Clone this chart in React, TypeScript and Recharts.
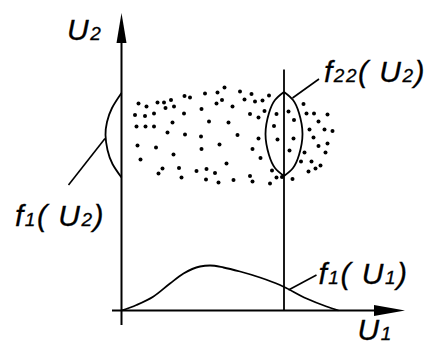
import React from 'react';
import {
  ComposedChart, XAxis, YAxis, Line, Scatter, ReferenceLine, ReferenceDot,
} from 'recharts';

// (U1, U2) samples of the joint distribution
const cloud: [number, number][] = [
  [103, 223], [83.5, 217], [96, 218], [118.5, 219], [130, 216.5], [63, 214.5],
  [68.5, 213], [49.5, 210.5], [42.5, 208], [36, 208], [17, 207], [100.5, 210.5],
  [95, 207], [123, 211], [133.5, 209], [141, 210], [147.5, 215], [52.5, 204],
  [44, 202.5], [25, 204], [80, 201.5], [111, 204], [143, 199.5], [32.5, 197],
  [23.5, 194.5], [13.5, 195.5], [62.5, 197], [128.5, 196.5], [137, 193], [155, 196.5],
  [167, 199], [182, 206.5], [185, 197], [192.5, 197], [206, 196], [172.5, 190.5],
  [197, 189], [51, 188], [87.5, 189], [107, 188], [15, 184], [24, 184],
  [32.5, 184], [152.5, 184.5], [188, 181], [203, 181], [211, 179.5], [46, 178],
  [63.5, 176], [116, 175.5], [79.5, 174], [137, 172], [156, 171], [172, 172],
  [192, 173], [206, 167], [197, 164.5], [16, 165], [34.5, 163], [98, 166],
  [80, 161.5], [131, 161.5], [168, 160], [183, 158], [204, 158], [52, 156],
  [19, 151], [139, 152.5], [179.5, 149], [190, 149], [105, 147], [199, 145],
  [194, 142], [187, 139], [41, 142], [57.5, 142.5], [37, 137], [75, 139.5],
  [85, 141.5], [93.5, 137.5], [150.5, 140], [128.5, 134.5], [155, 133], [160.5, 133.5],
  [60, 133], [84.5, 131], [97, 128], [112, 130.5], [131, 129], [148.5, 127],
  [171, 131.5],
];

// marginal density of U1 along the horizontal axis
const densityU1: [number, number][] = [
  [0, 0], [15, 5.5], [32, 14], [48.5, 27], [62, 37], [78.5, 44], [88.5, 45],
  [102, 43], [118.5, 39], [138.5, 33], [158.5, 25.5], [185, 12], [205, 4], [217, 0],
];

// marginal density of U2, drawn against the vertical axis
const densityU2: [number, number][] = [
  [0, 217.5], [-9.5, 202.5], [-14.5, 188.5], [-16, 175.5], [-14, 160.5], [-9, 146.5], [0, 133],
];

// conditional density f22 at the cut U1 = cutU1
const cutU1 = 162.5;
const lensRight: [number, number][] = [
  [162.5, 218.5], [171.5, 210.5], [177.5, 197.5], [181, 176.5], [177.5, 155.5], [171.5, 142.5], [162.5, 134.5],
];
const lensLeft: [number, number][] = [
  [162.5, 218.5], [153.5, 210.5], [147.5, 197.5], [144, 176.5], [147.5, 155.5], [153.5, 142.5], [162.5, 134.5],
];

const pts = (pairs: [number, number][]) => pairs.map(([u1, u2]) => ({ u1, u2 }));

const INK = '#000';
const FONT = '"Liberation Sans", Arial, sans-serif';

type Part = [string, boolean];
const labelU2: Part[] = [['U', false], ['2', true]];
const labelU1: Part[] = [['U', false], ['1', true]];
const labelF1U2: Part[] = [['f', false], ['1', true], ['( U', false], ['2', true], [')', false]];
const labelF1U1: Part[] = [['f', false], ['1', true], ['( U', false], ['1', true], [')', false]];
const labelF22: Part[] = [['f', false], ['22', true], ['( U', false], ['2', true], [')', false]];

const textAt = (parts: Part[]) => (props: any) => (
  <text x={props.cx} y={props.cy} fontFamily={FONT} fontStyle="italic" fill={INK}
    stroke={INK} strokeWidth={0.3} letterSpacing={1.5}>
    {parts.map(([s, sub], i) => (
      <tspan key={i} fontSize={sub ? 19 : 30}>{s}</tspan>
    ))}
  </text>
);

const arrowUp = (props: any) => (
  <polygon points={`${props.cx},${props.cy} ${props.cx - 5},${props.cy + 30} ${props.cx + 5},${props.cy + 30}`} fill={INK} />
);
const arrowRight = (props: any) => (
  <polygon points={`${props.cx},${props.cy} ${props.cx - 31},${props.cy - 5.5} ${props.cx - 31},${props.cy + 5.5}`} fill={INK} />
);
const cloudDot = (props: any) => <circle cx={props.cx} cy={props.cy} r={2} fill={INK} />;

const seg = (a: [number, number], b: [number, number]) => [{ x: a[0], y: a[1] }, { x: b[0], y: b[1] }];

export default function App() {
  const curve = { dataKey: 'u2', stroke: INK, strokeWidth: 1.8, dot: false, activeDot: false, isAnimationActive: false } as const;
  return (
    <div style={{ position: 'absolute', left: 0, top: 0, background: '#fff' }}>
      <ComposedChart width={427} height={345} margin={{ top: 0, right: 0, bottom: 0, left: 0 }}>
        <XAxis type="number" dataKey="u1" domain={[-121.5, 305.5]} allowDataOverflow hide />
        <YAxis type="number" dataKey="u2" domain={[-34.5, 310.5]} allowDataOverflow hide />

        {/* axes */}
        <ReferenceLine segment={seg([0, -14.5], [0, 280])} stroke={INK} strokeWidth={2} ifOverflow="visible" />
        <ReferenceLine segment={seg([-9.5, 0], [270, 0])} stroke={INK} strokeWidth={2} ifOverflow="visible" />
        <ReferenceDot x={0} y={297.5} shape={arrowUp} ifOverflow="visible" />
        <ReferenceDot x={283.5} y={0} shape={arrowRight} ifOverflow="visible" />

        {/* cut line and leaders */}
        <ReferenceLine segment={seg([cutU1, 0], [cutU1, 241])} stroke={INK} strokeWidth={1.8} ifOverflow="visible" />
        <ReferenceLine segment={seg([171, 212.5], [197.5, 231.5])} stroke={INK} strokeWidth={1.6} ifOverflow="visible" />
        <ReferenceLine segment={seg([-53, 125.5], [-16.5, 172])} stroke={INK} strokeWidth={1.6} ifOverflow="visible" />
        <ReferenceLine segment={seg([167, 20.5], [195, 35.5])} stroke={INK} strokeWidth={1.6} ifOverflow="visible" />

        <Scatter data={pts(cloud)} shape={cloudDot} isAnimationActive={false} />
        <Line {...curve} data={pts(densityU1)} type="monotone" />
        <Line {...curve} data={pts(densityU2)} type="natural" />
        <Line {...curve} data={pts(lensRight)} type="natural" />
        <Line {...curve} data={pts(lensLeft)} type="natural" />

        <ReferenceDot x={-54.5} y={271} shape={textAt(labelU2)} ifOverflow="visible" />
        <ReferenceDot x={236} y={-29} shape={textAt(labelU1)} ifOverflow="visible" />
        <ReferenceDot x={-106.5} y={84.5} shape={textAt(labelF1U2)} ifOverflow="visible" />
        <ReferenceDot x={197} y={26.5} shape={textAt(labelF1U1)} ifOverflow="visible" />
        <ReferenceDot x={202.5} y={228.5} shape={textAt(labelF22)} ifOverflow="visible" />
      </ComposedChart>
    </div>
  );
}
